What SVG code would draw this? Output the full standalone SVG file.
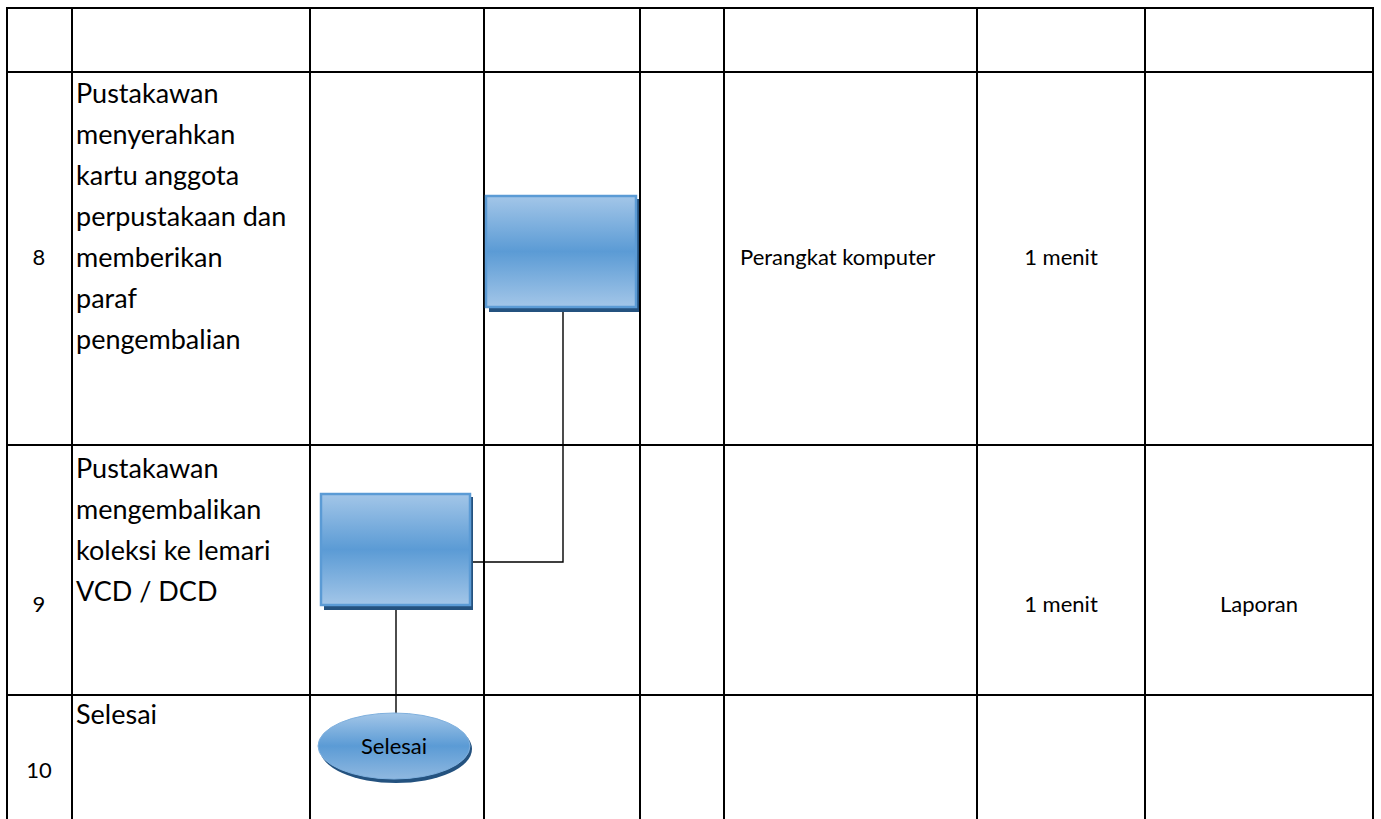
<svg xmlns="http://www.w3.org/2000/svg" width="1381" height="819" viewBox="0 0 1381 819">
<defs>
<linearGradient id="boxGrad" x1="0" y1="0" x2="0" y2="1">
<stop offset="0" stop-color="#a3c6e8"/>
<stop offset="0.5" stop-color="#5b9bd5"/>
<stop offset="1" stop-color="#a3c6e8"/>
</linearGradient>
<linearGradient id="ellGrad" x1="0" y1="0" x2="0" y2="1">
<stop offset="0" stop-color="#a3c6e8"/>
<stop offset="0.5" stop-color="#5b9bd5"/>
<stop offset="1" stop-color="#8fb8e0"/>
</linearGradient>
</defs>
<style>
.grid{stroke:#000;stroke-width:2;fill:none}
.conn{stroke:#000;stroke-width:1.4;fill:none}
.desc{font-family:Lato,"Liberation Sans",sans-serif;font-size:27px;fill:#000}
.small{font-family:Lato,"Liberation Sans",sans-serif;font-size:22px;fill:#000}
.box{fill:url(#boxGrad);stroke:#5b9bd5;stroke-width:2.5}
.shadow{fill:#24527f}
.ell{fill:url(#ellGrad);stroke:#7fb0de;stroke-width:1}
</style>
<rect width="1381" height="819" fill="#fff"/>
<g id="table">
<line class="grid" x1="6" y1="8" x2="1374" y2="8"/>
<line class="grid" x1="6" y1="72" x2="1374" y2="72"/>
<line class="grid" x1="6" y1="445" x2="1374" y2="445"/>
<line class="grid" x1="6" y1="695" x2="1374" y2="695"/>
<line class="grid" x1="7" y1="7" x2="7" y2="819"/>
<line class="grid" x1="72" y1="7" x2="72" y2="819"/>
<line class="grid" x1="310" y1="7" x2="310" y2="819"/>
<line class="grid" x1="484" y1="7" x2="484" y2="819"/>
<line class="grid" x1="640" y1="7" x2="640" y2="819"/>
<line class="grid" x1="724" y1="7" x2="724" y2="819"/>
<line class="grid" x1="977" y1="7" x2="977" y2="819"/>
<line class="grid" x1="1145" y1="7" x2="1145" y2="819"/>
<line class="grid" x1="1373" y1="7" x2="1373" y2="819"/>
</g>
<g id="row8-text">
<text class="small" x="39" y="265" text-anchor="middle">8</text>
<text class="desc" x="76" y="103">Pustakawan</text>
<text class="desc" x="76" y="144">menyerahkan</text>
<text class="desc" x="76" y="185">kartu anggota</text>
<text class="desc" x="76" y="226">perpustakaan dan</text>
<text class="desc" x="76" y="267">memberikan</text>
<text class="desc" x="76" y="308">paraf</text>
<text class="desc" x="76" y="349">pengembalian</text>
<text class="small" x="740" y="265">Perangkat komputer</text>
<text class="small" x="1061" y="265" text-anchor="middle">1 menit</text>
</g>
<g id="row9-text">
<text class="small" x="39" y="612" text-anchor="middle">9</text>
<text class="desc" x="76" y="478">Pustakawan</text>
<text class="desc" x="76" y="519">mengembalikan</text>
<text class="desc" x="76" y="560">koleksi ke lemari</text>
<text class="desc" x="76" y="601">VCD / DCD</text>
<text class="small" x="1061" y="612" text-anchor="middle">1 menit</text>
<text class="small" x="1259" y="612" text-anchor="middle">Laporan</text>
</g>
<g id="row10-text">
<text class="small" x="39" y="778" text-anchor="middle">10</text>
<text class="desc" x="76" y="724">Selesai</text>
</g>
<g id="connectors">
<polyline class="conn" points="563,311 563,562 470,562"/>
<line class="conn" x1="396" y1="610" x2="396" y2="714"/>
</g>
<g id="node-step8">
<rect class="shadow" x="489" y="199" width="150" height="113"/>
<rect class="box" x="486" y="196" width="150" height="111"/>
</g>
<g id="node-step9">
<rect class="shadow" x="324" y="497" width="149" height="113"/>
<rect class="box" x="321" y="494" width="149" height="111"/>
</g>
<g id="node-selesai">
<ellipse class="shadow" cx="396" cy="749" rx="76" ry="34"/>
<ellipse class="ell" cx="394" cy="746" rx="76" ry="33"/>
<text class="small" x="394" y="754" text-anchor="middle">Selesai</text>
</g>
</svg>
